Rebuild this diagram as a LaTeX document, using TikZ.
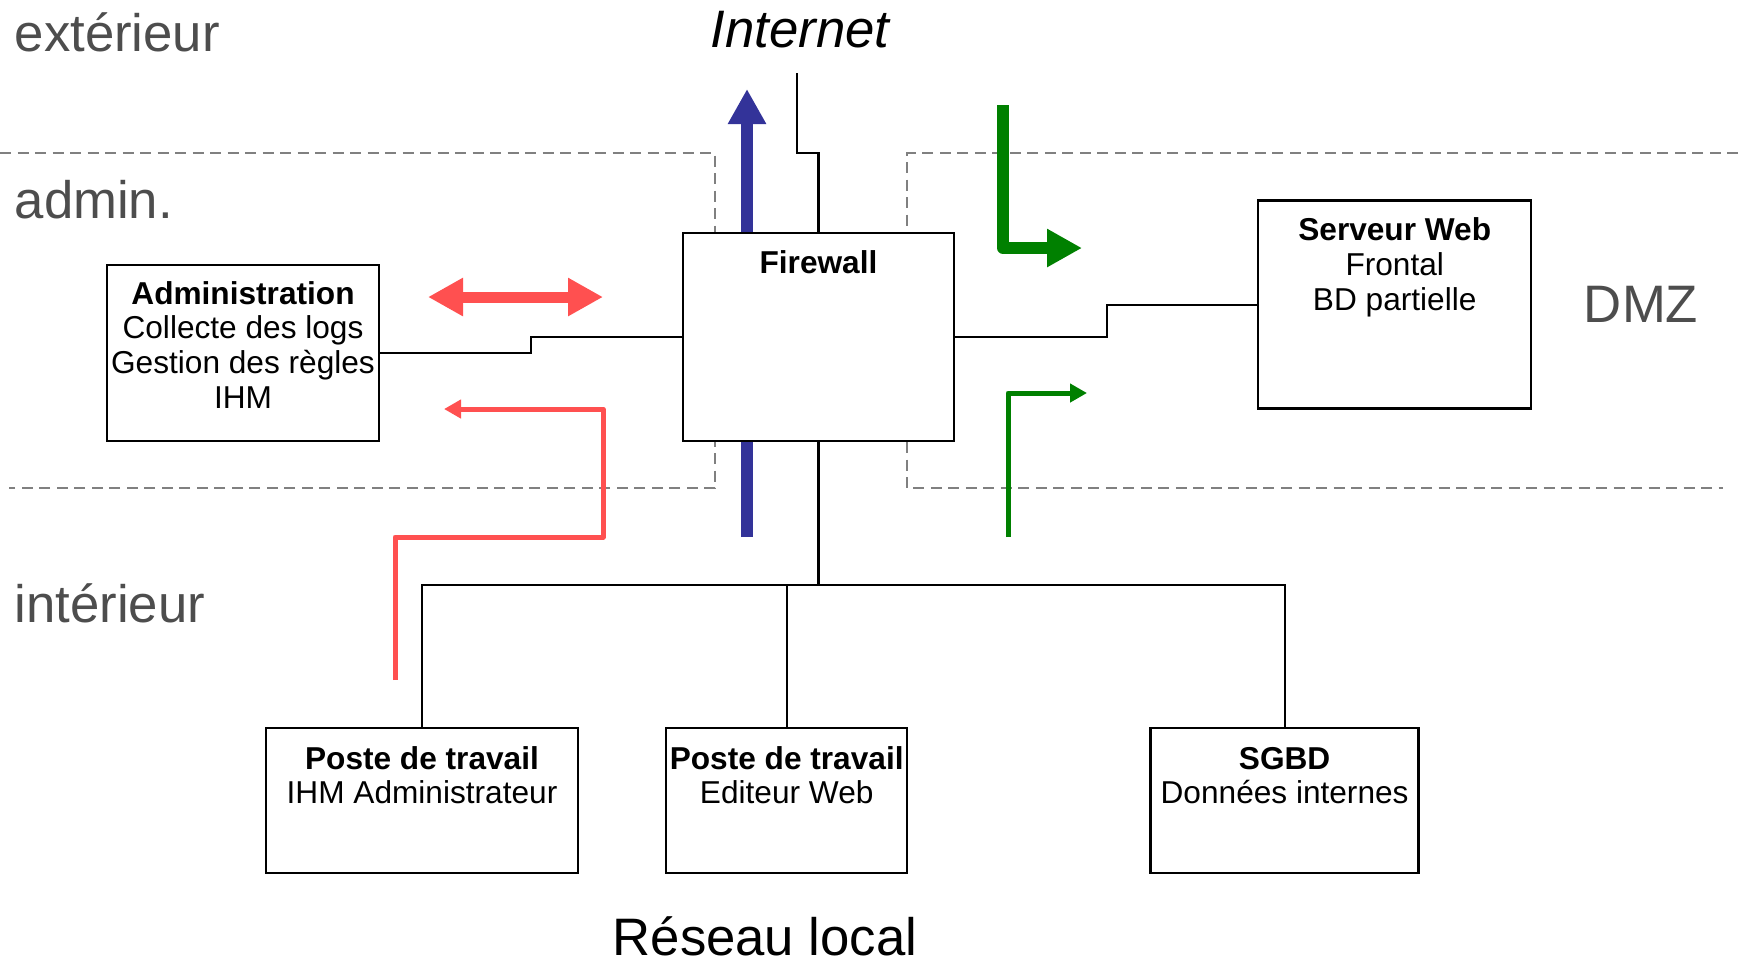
\documentclass[tikz,border=0pt]{standalone}
\usepackage{fontspec}
\setmainfont{Liberation Sans}
\usepackage{tikz}
\usetikzlibrary{arrows.meta,positioning,calc}

\definecolor{bleu}{HTML}{333399}
\definecolor{rouge}{HTML}{FF5050}
\definecolor{vert}{HTML}{008000}
\definecolor{grisfonce}{HTML}{4D4D4D}
\definecolor{gristrait}{HTML}{808080}

\tikzset{
  boite/.style={draw, line width=0.7pt, fill=white, inner sep=0pt, outer sep=0pt},
  texte/.style={anchor=base, align=center, inner sep=0pt, font=\fontsize{9pt}{9.9pt}\selectfont},
  zone/.style={draw=gristrait, line width=0.55pt, dash pattern=on 1.1mm off 0.65mm},
  titre/.style={anchor=base west, inner sep=0pt, text=grisfonce, font=\fontsize{15pt}{18pt}\selectfont},
  lien/.style={line width=0.6pt},
  grosse/.style={line width=1.2mm, line join=round, -{Triangle[length=3.5mm,width=3.6mm]}},
  fine/.style={line width=0.5mm, line join=round, -{Triangle[length=1.7mm,width=1.8mm]}},
}

\begin{document}
\begin{tikzpicture}[x=0.1mm, y=-0.1mm]
        \useasboundingbox (0,0) rectangle (1743,962);

        \draw[zone] (0,153) -- (715,153) -- (715,488) -- (9,488);
        \draw[zone] (1738,153) -- (907,153) -- (907,488) -- (1723,488);

        \node[titre] (ext) at (14,51) {extérieur};
        \node[titre] (adm) at (14,218) {admin.};
        \node[titre] (int) at (14,622) {intérieur};
        \node[titre, anchor=base] (dmz) at (1641,322) {DMZ};
        \node[titre, text=black, font=\fontsize{15pt}{18pt}\selectfont\itshape] (internet) at (710,47) {Internet};
        \node[titre, text=black, anchor=base] (reseau) at (765,955) {Réseau local};

        \coordinate (b1) at (747,537);
        \coordinate (b2) at (747,89);
        \draw[grosse, bleu] (b1) -- (b2);

        \node[boite, minimum width=27.1mm, minimum height=20.8mm] (fw) at (818.5,337) {};
        \node[boite, minimum width=27.2mm, minimum height=17.6mm] (admin) at (243,353) {};
        \node[boite, minimum width=27.3mm, minimum height=20.8mm] (web) at (1394.7,304.7) {};
        \node[boite, minimum width=31.2mm, minimum height=14.5mm] (poste1) at (422,800.5) {};
        \node[boite, minimum width=24.1mm, minimum height=14.5mm] (poste2) at (786.7,800.5) {};
        \node[boite, minimum width=26.8mm, minimum height=14.5mm] (sgbd) at (1284.6,800.5) {};

        \node[texte] (fwt) at ([yshift=-4mm]fw.north) {\textbf{Firewall}};
        \node[texte] (admint) at ([yshift=-14.35mm]admin.north) {\textbf{Administration}\\Collecte des logs\\Gestion des règles\\IHM};
        \node[texte] (webt) at ([yshift=-10.96mm]web.north) {\textbf{Serveur Web}\\Frontal\\BD partielle};
        \node[texte] (poste1t) at ([yshift=-7.58mm]poste1.north) {\textbf{Poste de travail}\\IHM Administrateur};
        \node[texte] (poste2t) at ([yshift=-7.58mm]poste2.north) {\textbf{Poste de travail}\\Editeur Web};
        \node[texte] (sgbdt) at ([yshift=-7.58mm]sgbd.north) {\textbf{SGBD}\\Données internes};

        \coordinate (inet) at (797,73);
        \draw[lien] (inet) -- ++(0,80) -| (fw.north);
        \draw[lien] (admin.east) -- (531,353) |- (fw.west);
        \draw[lien] (fw.east) -- (1107,337) |- (web.west);
        \draw[lien] (fw.south) -- ++(0,144) coordinate (bus);
        \draw[lien] (poste1.north) -- (poste1.north |- bus) -- (sgbd.north |- bus) -- (sgbd.north);
        \draw[lien] (poste2.north) -- (poste2.north |- bus);

        \coordinate (r1) at (428,297);
        \coordinate (r2) at (603,297);
        \draw[rouge, line width=1.1mm, {Triangle[length=3.5mm,width=3.6mm]}-{Triangle[length=3.5mm,width=3.6mm]}] (r1) -- (r2);

        \coordinate (r3) at (395,680);
        \coordinate (r4) at (444,409);
        \draw[fine, rouge] (r3) -- (395,537) -- (603,537) |- (r4);

        \coordinate (v1) at (1003,105);
        \coordinate (v2) at (1082,248);
        \draw[grosse, vert] (v1) |- (v2);

        \coordinate (v3) at (1008,537);
        \coordinate (v4) at (1087,393);
        \draw[fine, vert] (v3) |- (v4);
\end{tikzpicture}
\end{document}
